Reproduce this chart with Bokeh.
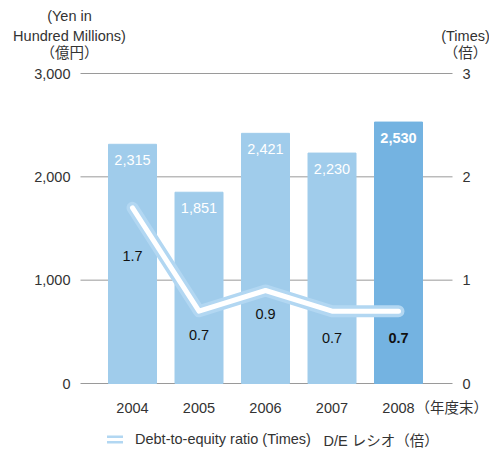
from bokeh.plotting import figure
from bokeh.models import Range1d, Legend, LegendItem, ColumnDataSource
from bokeh.core.properties import value
from bokeh.embed import file_html
from bokeh.resources import INLINE

# ---- data ----
years = ["2004", "2005", "2006", "2007", "2008"]
debt = [2315, 1851, 2421, 2230, 2530]          # Yen in hundred millions
de_ratio = [1.7, 0.7, 0.9, 0.7, 0.7]           # times
y_ticks = [0, 1000, 2000, 3000]
y_tick_labels = ["0", "1,000", "2,000", "3,000"]
r_ticks = [0, 1, 2, 3]
r_tick_labels = ["0", "1", "2", "3"]

FONT = "'Liberation Sans', 'Noto Sans CJK JP', sans-serif"
LIGHT = "#A0CCEB"
DARK = "#74B3E1"
HALO = "#B2D7F2"
TXT = "#333333"
FS = "14.5px"

idx = list(range(len(years)))
bar_colors = [DARK if i == len(years) - 1 else LIGHT for i in idx]
debt_txt = [f"{v:,}" for v in debt]
bar_font_style = ["bold" if i == len(years) - 1 else "normal" for i in idx]
ratio_txt = [f"{v:.1f}" for v in de_ratio]
ratio_dy = [48, 24, 23, 27, 27]  # label offsets (px) below the line points

# scale: 66.5 px per category, 310 px per 3000 units; frame fills the canvas
W, H = 489, 452
PX, PY = 66.5, 310 / 3000
X0, X1 = (0 - 132) / PX, (W - 132) / PX
Y0, Y1 = (383 - H) / PY, (383 - 0) / PY
GX0, GX1 = (80 - 132) / PX, (452 - 132) / PX      # plot-area (grid) extent

p = figure(width=W, height=H, output_backend="svg", toolbar_location=None,
           x_range=Range1d(X0, X1), y_range=Range1d(Y0, Y1),
           min_border=0)
p.extra_y_ranges = {"ratio": Range1d(Y0 / 1000, Y1 / 1000)}
p.outline_line_color = None
p.axis.visible = False
p.grid.visible = False
p.background_fill_color = "white"
p.border_fill_color = "white"

# grid lines
p.segment(x0=[GX0] * len(y_ticks), x1=[GX1] * len(y_ticks), y0=y_ticks, y1=y_ticks,
          line_color="#9a9a9a", line_width=1)

def txt(x, y, t, align="center", color=TXT, style="normal", y_range_name="default",
        y_offset=0, baseline="middle"):
    p.text(x=x, y=y, text=t, text_align=align, text_baseline=baseline,
           text_font=value(FONT), text_font_size=FS, text_color=color,
           text_font_style=style, y_range_name=y_range_name, y_offset=y_offset)

# tick labels
txt([(70 - 132) / PX] * len(y_ticks), y_ticks, y_tick_labels, align="right")
txt([(466 - 132) / PX] * len(r_ticks), r_ticks, r_tick_labels, y_range_name="ratio")
txt(idx, [(383 - 407) / PY] * len(idx), years)
txt([(415 - 132) / PX], [(383 - 407) / PY], ["（年度末）"], align="left")

# axis titles
txt([(69 - 132) / PX], [(383 - 15) / PY], ["(Yen in"])
txt([(69 - 132) / PX], [(383 - 35) / PY], ["Hundred Millions)"])
txt([(69 - 132) / PX], [(383 - 52) / PY], ["（億円）"])
txt([(465 - 132) / PX], [(383 - 35) / PY], ["(Times)"])
txt([(465 - 132) / PX], [(383 - 52) / PY], ["（倍）"])

# bars
src = ColumnDataSource(dict(x=idx, top=debt, color=bar_colors, txt=debt_txt,
                            fs=bar_font_style, r=de_ratio, rtxt=ratio_txt, rdy=ratio_dy))
p.vbar(x="x", top="top", width=48 / PX, color="color", source=src)
p.text(x="x", y="top", text="txt", source=src, text_align="center",
       text_baseline="middle", y_offset=16, text_color="white",
       text_font=value(FONT), text_font_size=FS, text_font_style="fs")

# line
p.line(x="x", y="r", source=src, y_range_name="ratio", line_width=12,
       line_color=HALO, line_cap="round", line_join="round")
p.line(x="x", y="r", source=src, y_range_name="ratio", line_width=5,
       line_color="white", line_cap="round", line_join="round")
p.text(x="x", y="r", text="rtxt", source=src, y_range_name="ratio",
       text_align="center", text_baseline="middle", y_offset="rdy",
       text_color="#111111", text_font=value(FONT), text_font_size=FS,
       text_font_style="fs")

# legend (icon-only renderers holding no visible data)
nan = float("nan")
empty = ColumnDataSource(dict(x=[nan], y=[nan]))
leg_halo = p.line(x="x", y="y", source=empty, line_width=8, line_color=HALO,
                  line_cap="round")
leg_core = p.line(x="x", y="y", source=empty, line_width=3, line_color="white",
                  line_cap="round")
txt([(323 - 132) / PX], [(383 - 440) / PY], ["D/E レシオ（倍）"], align="left")
legend = Legend(items=[LegendItem(label="Debt-to-equity ratio (Times)",
                                  renderers=[leg_halo, leg_core])],
                location=(107, 5), orientation="horizontal", padding=0, margin=0,
                glyph_width=16, glyph_height=16, label_height=16, label_standoff=12,
                border_line_color=None, background_fill_alpha=0,
                label_text_font=FONT, label_text_font_size=FS, label_text_color=TXT)
p.add_layout(legend, "center")

open("out.html", "w").write(file_html(p, INLINE))
